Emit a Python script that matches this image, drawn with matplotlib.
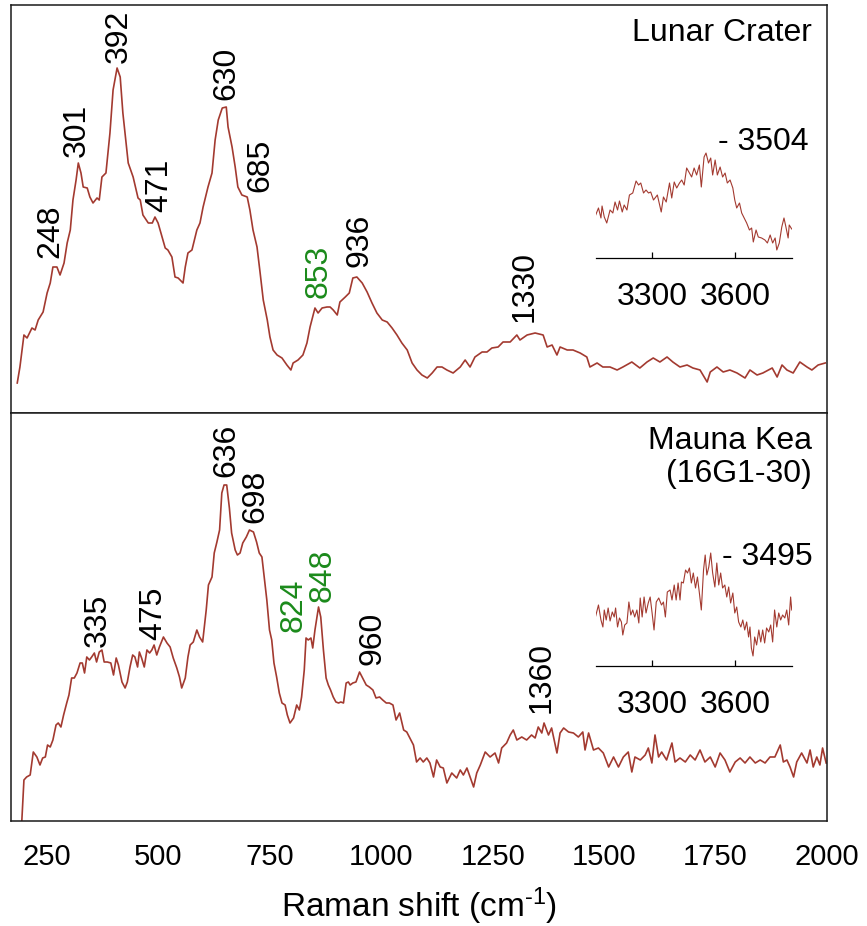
"""Raman spectra of two basalt samples, with the O-H stretch region as insets."""

import matplotlib
matplotlib.use('Agg')
import matplotlib.pyplot as plt
from matplotlib import rcParams

rcParams['font.family'] = ['Liberation Sans', 'DejaVu Sans']
rcParams.update({'font.size': 20})
rcParams['mathtext.fontset'] = 'custom'
rcParams['mathtext.rm'] = 'Liberation Sans'
rcParams['mathtext.it'] = 'Liberation Sans'

# Lunar Crater spectrum (Raman shift, arbitrary intensity)
lunar_x = [183, 189, 198, 205, 216, 223, 230, 241, 250, 257, 263, 272, 279, 288,
           295, 302, 308, 315, 320, 326, 331, 340, 346, 353, 362, 367, 373, 382,
           391, 398, 407, 414, 420, 432, 443, 454, 459, 465, 477, 486, 492, 499,
           508, 515, 521, 530, 537, 544, 555, 560, 566, 575, 586, 593, 600, 611,
           620, 627, 634, 643, 652, 656, 665, 672, 678, 687, 699, 705, 712, 721,
           728, 735, 744, 750, 757, 766, 777, 788, 797, 802, 813, 824, 833, 840,
           851, 858, 867, 878, 885, 892, 901, 907, 919, 928, 936, 945, 957, 968,
           979, 990, 1002, 1013, 1024, 1035, 1046, 1058, 1069, 1080, 1091, 1103,
           1114, 1125, 1136, 1147, 1161, 1177, 1188, 1199, 1210, 1226, 1237, 1248,
           1262, 1273, 1289, 1304, 1311, 1327, 1345, 1363, 1372, 1383, 1394, 1401,
           1417, 1430, 1446, 1461, 1468, 1484, 1497, 1513, 1529, 1542, 1562, 1580,
           1596, 1610, 1625, 1641, 1654, 1670, 1686, 1699, 1715, 1731, 1738, 1753,
           1767, 1782, 1798, 1816, 1827, 1843, 1856, 1877, 1888, 1899, 1910, 1924,
           1939, 1955, 1966, 1980, 1996]
lunar_y = [30, 46, 78, 75, 85, 83, 93, 101, 120, 130, 146, 146, 138, 150,
           170, 183, 213, 233, 250, 240, 226, 225, 216, 210, 215, 213, 236, 240,
           280, 323, 345, 336, 300, 250, 236, 215, 213, 198, 190, 190, 196, 190,
           176, 165, 163, 156, 136, 135, 130, 146, 160, 163, 183, 190, 206, 226,
           240, 273, 293, 305, 306, 286, 266, 246, 226, 218, 216, 203, 183, 166,
           140, 113, 93, 76, 63, 58, 55, 48, 43, 50, 53, 58, 70, 86,
           105, 100, 105, 106, 106, 103, 98, 111, 116, 120, 135, 136, 130, 121,
           110, 100, 93, 91, 85, 78, 70, 63, 50, 43, 38, 35,
           40, 46, 46, 43, 40, 46, 53, 46, 56, 61, 61, 65,
           66, 71, 71, 78, 73, 78, 80, 78, 66, 68, 58, 66,
           63, 63, 60, 56, 46, 50, 46, 46, 43, 46, 51, 45,
           51, 55, 51, 56, 51, 46, 48, 45, 43, 31, 41, 46,
           41, 43, 40, 35, 43, 38, 40, 45, 36, 48, 43, 40,
           51, 46, 43, 48, 50]

# Mauna Kea (16G1-30) spectrum
kea_x = [193, 198, 204, 212, 219, 227, 234, 240, 246, 251, 257, 263, 270, 275,
         281, 287, 294, 299, 305, 311, 317, 324, 329, 334, 339, 345, 350, 356,
         361, 367, 373, 378, 385, 393, 399, 405, 410, 418, 425, 430, 436, 442,
         447, 453, 457, 462, 468, 474, 480, 485, 490, 496, 502, 511, 519, 526,
         533, 541, 547, 552, 560, 566, 571, 578, 586, 592, 599, 607, 612, 620,
         625, 631, 637, 642, 647, 653, 659, 664, 672, 677, 683, 689, 697, 704,
         713, 720, 726, 732, 737, 743, 749, 754, 759, 765, 771, 777, 784, 789,
         795, 803, 810, 816, 821, 827, 831, 836, 842, 846, 851, 859, 864, 870,
         876, 881, 886, 892, 898, 904, 909, 915, 921, 926, 930, 936, 943, 951,
         958, 966, 973, 981, 988, 996, 1003, 1011, 1018, 1026, 1033, 1041, 1050,
         1057, 1064, 1072, 1079, 1087, 1094, 1102, 1109, 1117, 1124, 1132, 1139,
         1147, 1158, 1169, 1177, 1184, 1192, 1199, 1207, 1214, 1222, 1233, 1244,
         1255, 1263, 1270, 1281, 1289, 1296, 1304, 1315, 1326, 1337, 1345, 1352,
         1360, 1365, 1375, 1382, 1394, 1401, 1409, 1420, 1431, 1442, 1452, 1457,
         1465, 1476, 1487, 1498, 1510, 1521, 1532, 1543, 1554, 1562, 1569, 1581,
         1592, 1599, 1607, 1614, 1622, 1629, 1640, 1652, 1659, 1670, 1682, 1693,
         1704, 1715, 1726, 1738, 1749, 1760, 1771, 1782, 1794, 1805, 1816, 1827,
         1839, 1850, 1861, 1872, 1883, 1895, 1902, 1910, 1917, 1925, 1932, 1943,
         1955, 1962, 1969, 1977, 1984, 1990, 1998]
kea_y = [-2, 41, 44, 46, 69, 64, 56, 63, 64, 76, 74, 81, 96, 98,
         94, 106, 118, 126, 143, 143, 148, 158, 158, 148, 164, 161, 164, 168,
         159, 169, 171, 159, 159, 158, 146, 163, 156, 139, 133, 139, 154, 166,
         164, 154, 169, 163, 154, 171, 168, 171, 176, 166, 174, 184, 178, 174,
         163, 153, 144, 133, 143, 164, 176, 179, 191, 184, 179, 211, 236, 244,
         268, 279, 291, 328, 336, 336, 313, 288, 271, 266, 268, 278, 284, 291,
         289, 279, 268, 264, 244, 221, 191, 181, 158, 144, 128, 118, 116, 106,
         98, 103, 116, 111, 124, 151, 183, 181, 183, 173, 191, 214, 204, 171,
         143, 136, 131, 124, 119, 118, 119, 118, 138, 139, 136, 138, 139, 149,
         143, 136, 134, 131, 123, 124, 121, 118, 118, 116, 101, 108, 91,
         89, 83, 76, 59, 63, 59, 63, 58, 44, 61, 54, 53,
         38, 48, 43, 51, 46, 53, 44, 34, 48, 56, 69, 64,
         68, 58, 73, 78, 86, 91, 81, 84, 81, 86, 83, 94,
         88, 98, 86, 93, 68, 88, 93, 89, 88, 84, 89, 71,
         88, 71, 73, 68, 54, 64, 54, 64, 69, 49, 64, 61,
         66, 73, 58, 86, 64, 69, 61, 78, 59, 63, 59, 66,
         61, 71, 59, 64, 54, 68, 61, 49, 59, 63, 58, 64,
         58, 61, 58, 64, 64, 76, 59, 61, 54, 44, 59, 68,
         58, 71, 54, 64, 56, 73, 58]

# O-H stretch region, Lunar Crater
lunar_oh_x = [3096, 3106, 3115, 3119, 3127, 3136, 3148, 3158, 3166, 3175, 3182,
              3192, 3199, 3209, 3218, 3230, 3242, 3251, 3259, 3269, 3278, 3287,
              3295, 3305, 3319, 3333, 3341, 3351, 3363, 3371, 3380, 3389, 3399,
              3407, 3416, 3425, 3435, 3443, 3452, 3461, 3471, 3478, 3488, 3495,
              3504, 3512, 3519, 3528, 3536, 3546, 3555, 3564, 3572, 3582, 3592,
              3599, 3606, 3616, 3624, 3633, 3642, 3652, 3660, 3666, 3676, 3684,
              3696, 3708, 3717, 3727, 3736, 3745, 3751, 3760, 3769, 3777, 3784,
              3792, 3796, 3805]
lunar_oh_y = [43, 50, 40, 52, 41, 35, 48, 45, 56, 48, 57,
              46, 53, 48, 63, 65, 77, 73, 75, 65, 68, 65,
              66, 58, 63, 46, 61, 56, 75, 60, 76, 70, 75,
              78, 73, 90, 85, 81, 90, 83, 93, 71, 101, 105,
              95, 100, 83, 98, 83, 91, 81, 85, 75, 78, 70,
              58, 50, 55, 45, 40, 35, 28, 30, 16, 28, 21,
              20, 18, 15, 23, 15, 20, 8, 15, 31, 40, 31,
              20, 33, 29]

# O-H stretch region, Mauna Kea
kea_oh_x = [3096, 3106, 3115, 3122, 3127, 3134, 3141, 3148, 3156, 3163, 3168,
            3175, 3182, 3189, 3194, 3201, 3209, 3216, 3223, 3230, 3237, 3245,
            3252, 3257, 3264, 3271, 3278, 3286, 3293, 3300, 3307, 3315, 3324,
            3334, 3341, 3348, 3355, 3365, 3372, 3380, 3387, 3394, 3401, 3406,
            3413, 3421, 3428, 3435, 3442, 3449, 3457, 3464, 3471, 3478, 3486,
            3492, 3498, 3505, 3512, 3519, 3527, 3534, 3541, 3548, 3555, 3563,
            3570, 3577, 3584, 3592, 3599, 3606, 3613, 3621, 3628, 3635, 3642,
            3649, 3654, 3659, 3665, 3671, 3678, 3686, 3693, 3700, 3707, 3714,
            3722, 3729, 3736, 3743, 3751, 3758, 3765, 3772, 3780, 3787, 3794,
            3801, 3805]
kea_oh_y = [50, 61, 46, 39, 56, 46, 58, 45, 54, 49, 58,
            39, 48, 44, 31, 41, 43, 64, 51, 56, 49, 56,
            43, 68, 49, 69, 53, 63, 69, 53, 36, 64, 68,
            61, 64, 49, 74, 76, 66, 81, 66, 83, 66, 84,
            83, 96, 93, 98, 83, 93, 78, 89, 73, 56, 96,
            111, 91, 99, 113, 93, 79, 103, 81, 93, 78, 81,
            69, 79, 63, 73, 53, 59, 44, 39, 46, 36, 44,
            29, 39, 18, 10, 29, 21, 36, 24, 36, 23, 38,
            34, 41, 24, 56, 39, 53, 46, 51, 48, 56, 41,
            69, 56]

# peak labels: text, position, height of label foot, green or not
lunar_peaks = ['248', '301', '392', '471', '630', '685', '853', '936', '1330']
lunar_peak_x = [257, 317, 410, 501, 653, 728, 860, 952, 1322]
lunar_peak_y = [155, 256, 350, 201, 313, 221, 115, 146, 91]
lunar_peak_green = [False, False, False, False, False, False, True, False, False]

kea_peaks = ['335', '475', '636', '698', '824', '848', '960', '1360']
kea_peak_x = [364, 489, 653, 717, 804, 869, 979, 1360]
kea_peak_y = [174, 181, 344, 298, 189, 219, 156, 108]
kea_peak_green = [False, False, False, False, True, True, False, False]

line_color = '#A33A30'
green = '#1B8A1B'

fig = plt.figure(figsize=(8.67, 9.26), dpi=100)
ax_top = fig.add_axes([0.0127, 0.554, 0.9412, 0.4406])
ax_bot = fig.add_axes([0.0127, 0.1134, 0.9412, 0.4406])

panels = [(ax_top, lunar_x, lunar_y, lunar_peaks, lunar_peak_x, lunar_peak_y, lunar_peak_green),
          (ax_bot, kea_x, kea_y, kea_peaks, kea_peak_x, kea_peak_y, kea_peak_green)]
for ax, x, y, names, px, py, pg in panels:
    ax.plot(x, y, color=line_color, lw=1.2)
    for name, xx, yy, g in zip(names, px, py, pg):
        ax.text(xx, yy, name, rotation=90, ha='center', va='bottom',
                fontsize=23, color=green if g else 'k')
    ax.set_xlim(169, 2000)
    ax.set_ylim(0, 408)
    ax.set_yticks([])
    for s in ax.spines.values():
        s.set_linewidth(1.1)
        s.set_color('#1a1a1a')

ax_top.set_xticks([])
ax_bot.set_xticks([250, 500, 750, 1000, 1250, 1500, 1750, 2000])
ax_bot.tick_params(axis='x', length=0, pad=16, labelsize=21)
ax_bot.set_xlabel('Raman shift (cm$^{\\text{-}1}$)', fontsize=24, labelpad=10)

ax_top.text(0.9816, 0.967, 'Lunar Crater', transform=ax_top.transAxes,
            ha='right', va='top', fontsize=23)
ax_bot.text(0.9816, 0.967, 'Mauna Kea\n(16G1-30)', transform=ax_bot.transAxes,
            ha='right', va='top', fontsize=23, linespacing=1.1, multialignment='right')

# insets with the O-H band
insets = [([0.6874, 0.7214, 0.2261, 0.1274], lunar_oh_x, lunar_oh_y, '- 3504', 3538, 116),
          ([0.6874, 0.2808, 0.2261, 0.1274], kea_oh_x, kea_oh_y, '- 3495', 3553, 109)]
for pos, x, y, lab, lx, ly in insets:
    ins = fig.add_axes(pos)
    ins.patch.set_alpha(0)
    ins.plot(x, y, color=line_color, lw=0.8)
    ins.set_xlim(3097, 3806)
    ins.set_ylim(0, 118)
    ins.set_yticks([])
    for side in ['top', 'left', 'right']:
        ins.spines[side].set_visible(False)
    ins.spines['bottom'].set_linewidth(0.9)
    ins.set_xticks([3300, 3600])
    ins.tick_params(axis='x', direction='in', length=4, width=0.9, pad=17, labelsize=23)
    ins.text(lx, ly, lab, ha='left', va='center', fontsize=23, clip_on=False)

plt.savefig('out.png', dpi=100)
plt.close()
